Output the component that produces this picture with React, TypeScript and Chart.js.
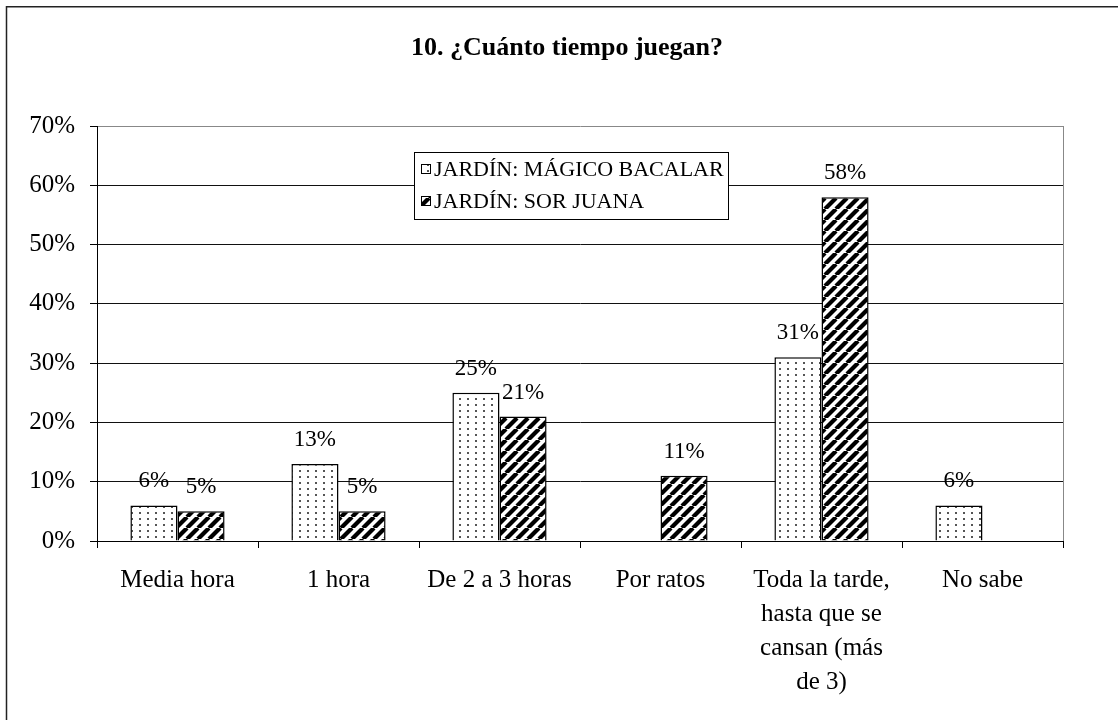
import React, { useEffect, useRef } from "react";
import { Chart, registerables } from "chart.js";

Chart.register(...registerables);

const TITLE = "10. ¿Cuánto tiempo juegan?";
const categories: (string | string[])[] = [
  "Media hora",
  "1 hora",
  "De 2 a 3 horas",
  "Por ratos",
  ["Toda la tarde,", "hasta que se", "cansan (más", "de 3)"],
  "No sabe",
];
const seriesNames = ["JARDÍN: MÁGICO BACALAR", "JARDÍN: SOR JUANA"];
const magicoBacalar = [6, 13, 25, 0, 31, 6];
const sorJuana = [5, 5, 21, 11, 58, 0];
const yMin = 0;
const yMax = 70;
const yStep = 10;

const SERIF = "'Liberation Serif', 'Times New Roman', serif";

function makeDotPattern(): CanvasPattern | string {
  const c = document.createElement("canvas");
  c.width = 8;
  c.height = 6;
  const g = c.getContext("2d");
  if (!g) return "#fff";
  g.fillStyle = "#fff";
  g.fillRect(0, 0, 8, 6);
  g.fillStyle = "#555";
  g.fillRect(3, 2, 2, 2);
  return g.createPattern(c, "repeat") || "#fff";
}

function makeStripePattern(): CanvasPattern | string {
  const s = 11;
  const c = document.createElement("canvas");
  c.width = s;
  c.height = s;
  const g = c.getContext("2d");
  if (!g) return "#000";
  g.fillStyle = "#fff";
  g.fillRect(0, 0, s, s);
  g.strokeStyle = "#000";
  g.lineWidth = 4.2;
  for (const o of [-s, 0, s]) {
    g.beginPath();
    g.moveTo(o, s);
    g.lineTo(o + s, 0);
    g.stroke();
  }
  return g.createPattern(c, "repeat") || "#000";
}

export default function App() {
  const ref = useRef<HTMLCanvasElement | null>(null);

  useEffect(() => {
    const canvas = ref.current;
    if (!canvas) return;
    const dots = makeDotPattern();
    const stripes = makeStripePattern();
    const fills = [dots, stripes];

    const decorPlugin = {
      id: "decor",
      beforeDraw(chart: any) {
        const ctx = chart.ctx;
        ctx.save();
        ctx.fillStyle = "#fff";
        ctx.fillRect(0, 0, chart.width, chart.height);
        ctx.restore();
      },
      afterDatasetsDraw(chart: any) {
        const ctx = chart.ctx;
        ctx.save();
        ctx.font = `23px ${SERIF}`;
        ctx.fillStyle = "#000";
        ctx.textAlign = "center";
        ctx.textBaseline = "middle";
        chart.data.datasets.forEach((ds: any, di: number) => {
          const meta = chart.getDatasetMeta(di);
          meta.data.forEach((el: any, i: number) => {
            const v = ds.data[i];
            if (!v) return;
            ctx.fillText(`${v}%`, el.x, el.y - 24);
          });
        });
        ctx.restore();
      },
      afterDraw(chart: any) {
        const ctx = chart.ctx;
        const a = chart.chartArea;
        ctx.save();
        // right plot border
        ctx.strokeStyle = "#888";
        ctx.lineWidth = 1;
        ctx.beginPath();
        ctx.moveTo(Math.round(a.right) + 0.5, a.top);
        ctx.lineTo(Math.round(a.right) + 0.5, a.bottom);
        ctx.stroke();
        // outer frame
        ctx.strokeStyle = "#222";
        ctx.lineWidth = 1.5;
        ctx.strokeRect(6.5, 6.75, 1300, 900);
        // title
        ctx.fillStyle = "#000";
        ctx.font = `bold 26px ${SERIF}`;
        ctx.textAlign = "center";
        ctx.textBaseline = "middle";
        ctx.fillText(TITLE, 567, 48);
        // legend
        const lx = 414.5, ly = 152.5, lw = 314, lh = 67;
        ctx.fillStyle = "#fff";
        ctx.fillRect(lx, ly, lw, lh);
        ctx.strokeStyle = "#000";
        ctx.lineWidth = 1;
        ctx.strokeRect(lx, ly, lw, lh);
        const rows = [169, 201];
        ctx.font = `22px ${SERIF}`;
        ctx.textAlign = "left";
        seriesNames.forEach((name, i) => {
          const cy = rows[i];
          ctx.fillStyle = fills[i] as any;
          ctx.fillRect(421, cy - 5, 10, 10);
          ctx.strokeStyle = "#000";
          ctx.strokeRect(421.5, cy - 4.5, 9, 9);
          ctx.fillStyle = "#000";
          ctx.fillText(name, 434, cy + 1);
        });
        ctx.restore();
      },
    };

    const chart = new Chart(canvas, {
      type: "bar",
      data: {
        labels: categories as any,
        datasets: [
          {
            label: seriesNames[0],
            data: magicoBacalar,
            backgroundColor: dots as any,
            borderColor: "#000",
            borderWidth: ((c: any) => (c.raw ? 1.5 : 0)) as any,
            borderSkipped: "start",
            categoryPercentage: 0.585,
            barPercentage: 1,
          },
          {
            label: seriesNames[1],
            data: sorJuana,
            backgroundColor: stripes as any,
            borderColor: "#000",
            borderWidth: ((c: any) => (c.raw ? 1.5 : 0)) as any,
            borderSkipped: "start",
            categoryPercentage: 0.585,
            barPercentage: 1,
          },
        ],
      },
      options: {
        responsive: false,
        animation: false,
        events: [],
        layout: { padding: { top: 126, right: 55, left: 0, bottom: 0 } },
        plugins: {
          legend: { display: false },
          title: { display: false },
          tooltip: { enabled: false },
        },
        scales: {
          x: {
            grid: {
              display: true,
              drawOnChartArea: false,
              drawTicks: true,
              tickLength: 7,
              tickColor: "#000",
              offset: true,
            },
            border: { display: true, color: "#000", width: 1 },
            ticks: {
              color: "#000",
              font: { family: SERIF, size: 25, lineHeight: 1.36 },
              padding: 15,
              maxRotation: 0,
              minRotation: 0,
              autoSkip: false,
            },
            afterFit: (s: any) => {
              s.height = 179;
            },
          },
          y: {
            min: yMin,
            max: yMax,
            ticks: {
              stepSize: yStep,
              color: "#000",
              font: { family: SERIF, size: 25 },
              padding: 15,
              callback: (v: any) => `${v}%`,
            },
            grid: {
              color: ((c: any) => (c.tick && c.tick.value === yMax ? "#888" : "#111")) as any,
              tickColor: "#000",
              tickLength: 7,
              lineWidth: 1,
            },
            border: { display: true, color: "#000", width: 1 },
            afterFit: (s: any) => {
              s.width = 97;
            },
          },
        },
      },
      plugins: [decorPlugin],
    });
    return () => chart.destroy();
  }, []);

  return (
    <div style={{ position: "absolute", left: 0, top: 0, width: 1118, height: 720 }}>
      <canvas ref={ref} width={1118} height={720} style={{ width: 1118, height: 720, display: "block" }} />
    </div>
  );
}
